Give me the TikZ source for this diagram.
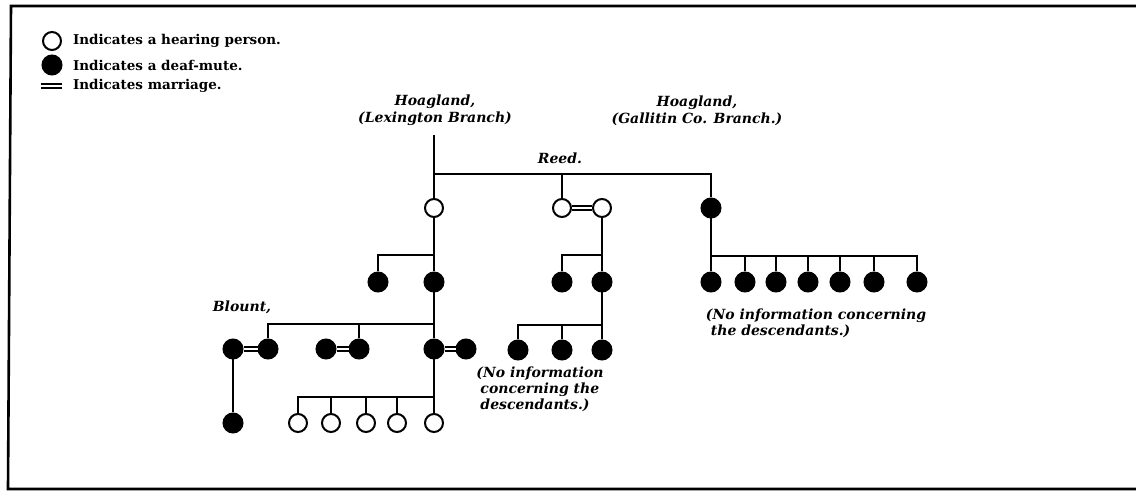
\documentclass[tikz,border=0pt]{standalone}
\usepackage{fontspec}
\setmainfont{DejaVu Serif}
\usetikzlibrary{positioning}

\begin{document}
\begin{tikzpicture}[x=1pt,y=-1pt,line width=2pt,
    hear/.style={circle,draw,fill=white,minimum size=18pt,inner sep=0pt},
    deaf/.style={circle,draw,fill=black,minimum size=19pt,inner sep=0pt},
    wed/.style={double,double distance=2.8pt,line width=1.3pt},
    legtext/.style={anchor=west,inner sep=0pt,font=\bfseries\fontsize{13.5}{15}\selectfont},
    lbl/.style={align=center,inner sep=0pt,font=\bfseries\itshape\fontsize{14}{17}\selectfont},
    note/.style={align=left,inner sep=0pt,font=\bfseries\itshape\fontsize{14}{16}\selectfont}]
    \useasboundingbox (0,0) rectangle (1136,494);

    % Frame (open on the right)
    \draw[line width=2.6pt] (1136,6) -- (11,6) -- (8,489) -- (1136,489);

    % Legend
    \node[hear] (kh) at (52,41) {};
    \node[legtext] (khtext) at (72,41) {Indicates a hearing person.};
    \node[deaf] (kd) at (52,65) {};
    \node[legtext] (kdtext) at (72,65) {Indicates a deaf-mute.};
    \coordinate (km1) at (41,86);
    \coordinate (km2) at (62,86);
    \draw[wed] (km1) -- (km2);
    \node[legtext] (kmtext) at (72,86) {Indicates marriage.};

    % Family names
    \node[lbl] (hlex) at (435,110) {Hoagland,\\(Lexington Branch)};
    \node[lbl] (hgal) at (697,111) {Hoagland,\\(Gallitin Co. Branch.)};
    \node[lbl] (reed) at (560,158) {Reed.};
    \node[lbl] (blount) at (242,307) {Blount,};

    % First generation
    \node[hear] (lex0) at (434,208) {};
    \node[hear] (reed1) at (562,208) {};
    \node[hear] (reed2) at (602,208) {};
    \node[deaf] (gal0) at (711,208) {};
    \coordinate (t0) at (434,135);
    \coordinate (bar0) at (711,174);
    \draw (t0) -- (lex0);
    \draw (lex0 |- bar0) -- (bar0) -- (gal0);
    \draw (reed1) -- (reed1 |- bar0);
    \draw[wed] (reed1) -- (reed2);

    % Second generation
    \node[deaf] (lex1a) at (378,282) {};
    \node[deaf] (lex1b) at (434,282) {};
    \coordinate (bar1) at (434,255);
    \draw (lex0) -- (lex1b);
    \draw (lex1a) |- (bar1);

    \node[deaf] (reed3) at (562,282) {};
    \node[deaf] (reed4) at (602,282) {};
    \coordinate (bar2) at (602,255);
    \draw (reed2) -- (reed4);
    \draw (reed3) |- (bar2);

    \foreach \x [count=\i] in {711,745,776,808,840,874,917}
      \node[deaf] (gal\i) at (\x,282) {};
    \coordinate (bar3) at (917,256);
    \draw (gal0) -- (gal1);
    \draw (gal1 |- bar3) -- (bar3) -- (gal7);
    \foreach \i in {2,...,6}
      \draw (gal\i) -- (gal\i |- bar3);
    \node[note] (galnote) at (816,323) {(No information concerning\\\hspace{5pt}the descendants.)};

    % Third generation
    \node[deaf] (blA) at (233,349) {};
    \node[deaf] (blB) at (268,349) {};
    \node[deaf] (mdA) at (326,349) {};
    \node[deaf] (mdB) at (359,349) {};
    \node[deaf] (lxA) at (434,349) {};
    \node[deaf] (lxB) at (466,349) {};
    \coordinate (bar4) at (434,324);
    \draw (lex1b) -- (lxA);
    \draw (blB) |- (bar4);
    \draw (mdB) -- (mdB |- bar4);
    \draw[wed] (blA) -- (blB);
    \draw[wed] (mdA) -- (mdB);
    \draw[wed] (lxA) -- (lxB);

    \node[deaf] (rd1) at (518,350) {};
    \node[deaf] (rd2) at (562,350) {};
    \node[deaf] (rd3) at (602,350) {};
    \coordinate (bar6) at (602,325);
    \draw (reed4) -- (rd3);
    \draw (rd1) |- (bar6);
    \draw (rd2) -- (rd2 |- bar6);
    \node[note] (rdnote) at (540,389) {(No information\\\hspace{4pt}concerning the\\\hspace{4pt}descendants.)};

    % Fourth generation
    \node[deaf] (bl1) at (233,423) {};
    \draw (blA) -- (bl1);
    \foreach \x [count=\i] in {298,331,366,397,434}
      \node[hear] (lx\i) at (\x,423) {};
    \coordinate (bar5) at (434,397);
    \draw (lxA) -- (lx5);
    \draw (lx1) |- (bar5);
    \foreach \i in {2,3,4}
      \draw (lx\i) -- (lx\i |- bar5);
\end{tikzpicture}
\end{document}
